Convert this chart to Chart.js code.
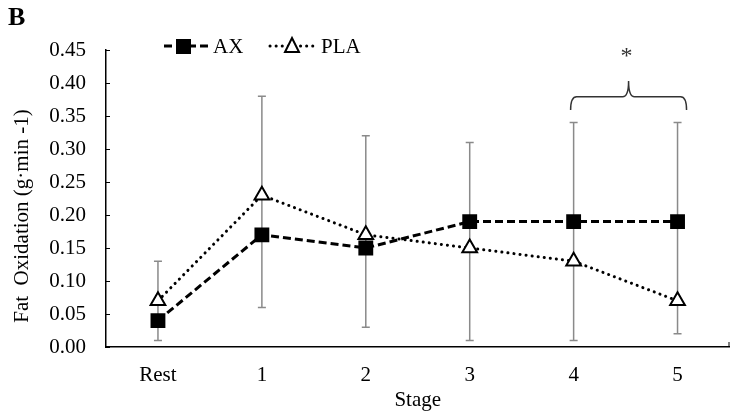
<!DOCTYPE html>
<html>
<head>
<meta charset="utf-8">
<script src="https://cdn.jsdelivr.net/npm/chart.js@4"></script>
<style>
  html, body { margin: 0; padding: 0; background: #fff; }
  #wrap { position: relative; width: 740px; height: 417px; }
</style>
</head>
<body>
<div id="wrap"><canvas id="grafico"></canvas></div>
<script>
const etapas = ['Rest', '1', '2', '3', '4', '5'];
const valoresAX = [0.04, 0.17, 0.15, 0.19, 0.19, 0.19];
const valoresPLA = [0.07, 0.23, 0.17, 0.15, 0.13, 0.07];
const errorMin = [0.01, 0.06, 0.03, 0.01, 0.01, 0.02];
const errorMax = [0.13, 0.38, 0.32, 0.31, 0.34, 0.34];
const ticksY = [0, 0.05, 0.10, 0.15, 0.20, 0.25, 0.30, 0.35, 0.40, 0.45];

const fuente = '"Liberation Serif", serif';

// barras de error, ticks internos, leyenda, llave y asterisco
const extras = {
    id: 'extras',
    beforeDatasetsDraw(chart) {
        const { ctx, scales: { x, y } } = chart;
        ctx.save();
        ctx.strokeStyle = '#8a8a8a';
        ctx.lineWidth = 1.5;
        etapas.forEach((e, i) => {
            const px = x.getPixelForValue(i);
            const y1 = y.getPixelForValue(errorMin[i]);
            const y2 = y.getPixelForValue(errorMax[i]);
            ctx.beginPath();
            ctx.moveTo(px, y1); ctx.lineTo(px, y2);
            ctx.moveTo(px - 4, y1); ctx.lineTo(px + 4, y1);
            ctx.moveTo(px - 4, y2); ctx.lineTo(px + 4, y2);
            ctx.stroke();
        });
        // ticks internos eje y
        ctx.strokeStyle = '#000';
        ctx.lineWidth = 1;
        ticksY.forEach(v => {
            const py = Math.round(y.getPixelForValue(v)) + 0.5;
            ctx.beginPath();
            ctx.moveTo(x.left, py); ctx.lineTo(x.left + 4, py);
            ctx.stroke();
        });
        // tick final eje x
        ctx.beginPath();
        ctx.moveTo(x.right - 0.5, y.bottom); ctx.lineTo(x.right - 0.5, y.bottom - 5);
        ctx.stroke();
        ctx.restore();
    },
    afterDraw(chart) {
        const { ctx, scales: { x, y } } = chart;
        ctx.save();
        // titulo B
        ctx.fillStyle = '#000';
        ctx.font = 'bold 26px ' + fuente;
        ctx.textBaseline = 'top';
        ctx.fillText('B', 8, 5);

        // titulo eje y
        ctx.save();
        ctx.translate(22, 216);
        ctx.rotate(-Math.PI / 2);
        ctx.font = '21px ' + fuente;
        ctx.textAlign = 'center';
        ctx.textBaseline = 'middle';
        ctx.fillText('Fat  Oxidation (g·min -1)', 0, 0);
        ctx.restore();

        // leyenda
        const ly = 46;
        ctx.strokeStyle = '#000';
        ctx.lineWidth = 3;
        ctx.setLineDash([8, 4]);
        ctx.beginPath(); ctx.moveTo(164, ly); ctx.lineTo(210, ly); ctx.stroke();
        ctx.setLineDash([]);
        ctx.fillRect(176, ly - 7, 15, 15);
        ctx.font = '21px ' + fuente;
        ctx.textBaseline = 'middle';
        ctx.fillText('AX', 213, ly + 1);

        ctx.lineCap = 'round';
        ctx.setLineDash([0.1, 6]);
        ctx.beginPath(); ctx.moveTo(270, ly); ctx.lineTo(318, ly); ctx.stroke();
        ctx.setLineDash([]);
        ctx.lineCap = 'butt';
        ctx.lineWidth = 2;
        ctx.fillStyle = '#fff';
        ctx.beginPath();
        ctx.moveTo(292, ly - 8); ctx.lineTo(299, ly + 6); ctx.lineTo(285, ly + 6); ctx.closePath();
        ctx.fill(); ctx.stroke();
        ctx.fillStyle = '#000';
        ctx.fillText('PLA', 321, ly + 1);

        // llave sobre etapas 4 y 5
        const xa = x.getPixelForValue(4) - 3;
        const xb = x.getPixelForValue(5) + 9;
        const xm = (xa + xb) / 2;
        const yb = y.getPixelForValue(0.359);
        const yt = y.getPixelForValue(0.379);
        const yp = y.getPixelForValue(0.403);
        ctx.strokeStyle = '#333';
        ctx.lineWidth = 1.5;
        ctx.beginPath();
        ctx.moveTo(xa, yb);
        ctx.quadraticCurveTo(xa, yt, xa + 6, yt);
        ctx.lineTo(xm - 6, yt);
        ctx.quadraticCurveTo(xm, yt, xm, yp);
        ctx.quadraticCurveTo(xm, yt, xm + 6, yt);
        ctx.lineTo(xb - 6, yt);
        ctx.quadraticCurveTo(xb, yt, xb, yb);
        ctx.stroke();
        ctx.fillStyle = '#333';
        ctx.font = '24px ' + fuente;
        ctx.textAlign = 'center';
        ctx.fillText('*', xm - 2, y.getPixelForValue(0.44));
        ctx.restore();
    }
};

const ctx = document.getElementById('grafico').getContext('2d');
const chart = new Chart(ctx, {
    type: 'line',
    data: {
        labels: etapas,
        datasets: [{
            label: 'AX',
            data: valoresAX,
            borderColor: '#000',
            backgroundColor: '#000',
            borderWidth: 3,
            borderDash: [8, 4],
            pointStyle: 'rect',
            pointRadius: 10.5,
            pointBorderWidth: 0,
            pointBackgroundColor: '#000',
            tension: 0
        }, {
            label: 'PLA',
            data: valoresPLA,
            borderColor: '#000',
            backgroundColor: '#fff',
            borderWidth: 3,
            borderDash: [0.1, 6],
            borderCapStyle: 'round',
            pointStyle: 'triangle',
            pointRadius: 8.5,
            pointBorderWidth: 2,
            pointBorderColor: '#000',
            pointBackgroundColor: '#fff',
            tension: 0
        }]
    },
    options: {
        responsive: true,
        maintainAspectRatio: false,
        animation: false,
        layout: { padding: { top: 50, right: 8, left: 0, bottom: 0 } },
        plugins: {
            legend: { display: false },
            tooltip: { enabled: false }
        },
        scales: {
            x: {
                offset: true,
                grid: { display: false, drawTicks: true, tickLength: 5, offset: false, color: '#000' },
                border: { color: '#000', width: 1.5 },
                ticks: { color: '#000', font: { family: fuente, size: 21 }, padding: 11 },
                title: { display: true, text: 'Stage', color: '#000', font: { family: fuente, size: 21 }, padding: { top: 0 } },
                afterFit: s => { s.height = 70; }
            },
            y: {
                min: 0,
                max: 0.45,
                grid: { display: false, drawTicks: false },
                border: { color: '#000', width: 1.5 },
                afterBuildTicks: s => { s.ticks = ticksY.map(v => ({ value: v })); },
                ticks: {
                    color: '#000',
                    font: { family: fuente, size: 21 },
                    padding: 20,
                    callback: v => v.toFixed(2)
                },
                title: { display: false },
                afterFit: s => { s.width = 106; }
            }
        }
    },
    plugins: [extras]
});
</script>
</body>
</html>
